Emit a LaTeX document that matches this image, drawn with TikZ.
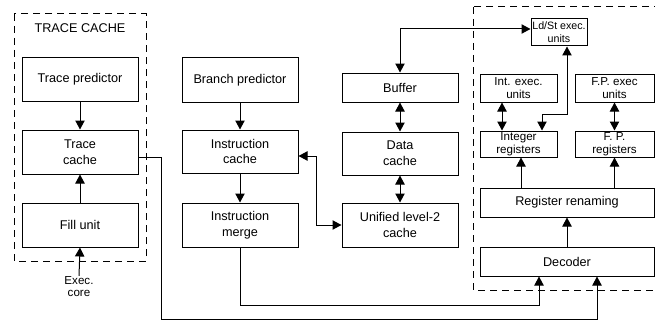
\documentclass[tikz,border=0pt]{standalone}
\usepackage{fontspec}
\setmainfont{Liberation Sans}
\usetikzlibrary{arrows.meta,calc}

\begin{document}
\begin{tikzpicture}[
  x=0.75pt, y=-0.75pt,
  line width=0.75pt,
  >={Triangle[length=6.75pt,width=7pt]},
  box/.style={draw, rectangle, inner sep=0pt, align=center,
    font=\fontsize{9.5}{11.8}\selectfont},
  smallbox/.style={box, font=\fontsize{8.7}{9.75}\selectfont},
  wA/.style={minimum width=87pt},
  hA/.style={minimum height=33pt},
  group/.style={draw, dash pattern=on 5.25pt off 3.75pt, line width=0.75pt},
  note/.style={inner sep=0pt, align=center}
]
\useasboundingbox (0,0) rectangle (655,321);

% dashed groupings
\draw[group] (14,14) rectangle (146,261);
\draw[group] (473,7) rectangle (662,290);
\node[note, font=\fontsize{9.5}{11.8}\selectfont] (tclabel) at (80,28) {TRACE CACHE};

% trace cache column
\node[box, wA, minimum height=32.25pt] (tp) at (80,79.5) {Trace predictor};
\node[box, wA, hA] (tc) at (80,152) {Trace\\cache};
\node[box, wA, hA] (fu) at (80,225) {Fill unit};
\node[note, font=\fontsize{8.7}{9}\selectfont] (exec) at (79,286.5) {Exec.\\core};

% instruction fetch column
\node[box, wA, hA] (bp) at (240,80) {Branch predictor};
\node[box, wA, minimum height=32.25pt] (ic) at (240,151.5) {Instruction\\cache};
\node[box, wA, hA] (im) at (240,225) {Instruction\\merge};

% memory column
\node[box, wA, minimum height=21.75pt] (buf) at (400,87.5) {Buffer};
\node[box, wA, minimum height=32.25pt] (dc) at (400,153.5) {Data\\cache};
\node[box, wA, hA] (ul2) at (400,225) {Unified level-2\\cache};

% execution core
\node[smallbox, font=\fontsize{8}{9.75}\selectfont, minimum width=42pt, minimum height=20.25pt] (ls) at (559,32.5) {Ld/St exec.\\units};
\node[smallbox, minimum width=57.75pt, minimum height=21pt] (ie) at (518.5,88) {Int. exec.\\units};
\node[smallbox, minimum width=59.25pt, minimum height=21pt] (fe) at (614.5,88) {F.P. exec\\units};
\node[smallbox, minimum width=57.75pt, minimum height=19.5pt] (ir) at (518.5,144) {Integer\\registers};
\node[smallbox, minimum width=59.25pt, minimum height=19.5pt] (fr) at (614.5,144) {F. P.\\registers};
\node[box, minimum width=130.5pt, minimum height=21.75pt] (rr) at (567,202.5) {Register renaming};
\node[box, minimum width=130.5pt, minimum height=21.75pt] (dec) at (567,261.5) {Decoder};

% trace cache connections
\draw[->] (tp) -- (tc);
\draw[->] (fu) -- (tc);
\draw[->] (exec.north) -- (fu.south);
\coordinate (tcdown) at (161,319);
\draw[->] ($(tc.east)+(0,5)$) -| (tcdown) -| ($(dec.south)+(30,0)$);

% instruction fetch connections
\draw[->] (bp) -- (ic);
\draw[->] (ic) -- (im);
\draw[->] (im.south) |- ($(dec.south)+(-28,29)$) -- ($(dec.south)+(-28,0)$);
\draw[<->] ($(ic.east)+(0,4.5)$) -| ($(ul2.west)+(-25,0)$) -- (ul2.west);

% memory connections
\draw[<->] (buf) -- (dc);
\draw[<->] (dc) -- (ul2);
\draw[<->] (buf.north) |- ($(ls.west)+(0,-3.5)$);

% execution core connections
\draw[<->] ($(ls.south)+(8,0)$) |- ($(ir.north)+(23.5,-16)$) -- ($(ir.north)+(23.5,0)$);
\draw[<->] ($(ie.south)+(-16.5,0)$) -- ($(ir.north)+(-16.5,0)$);
\draw[<->] (fe) -- (fr);
\draw[->] ($(ir.south)+(2.5,31)$) -- ($(ir.south)+(2.5,0)$);
\draw[->] (rr.north -| fr.south) -- (fr.south);
\draw[->] (dec) -- (rr);
\end{tikzpicture}
\end{document}
